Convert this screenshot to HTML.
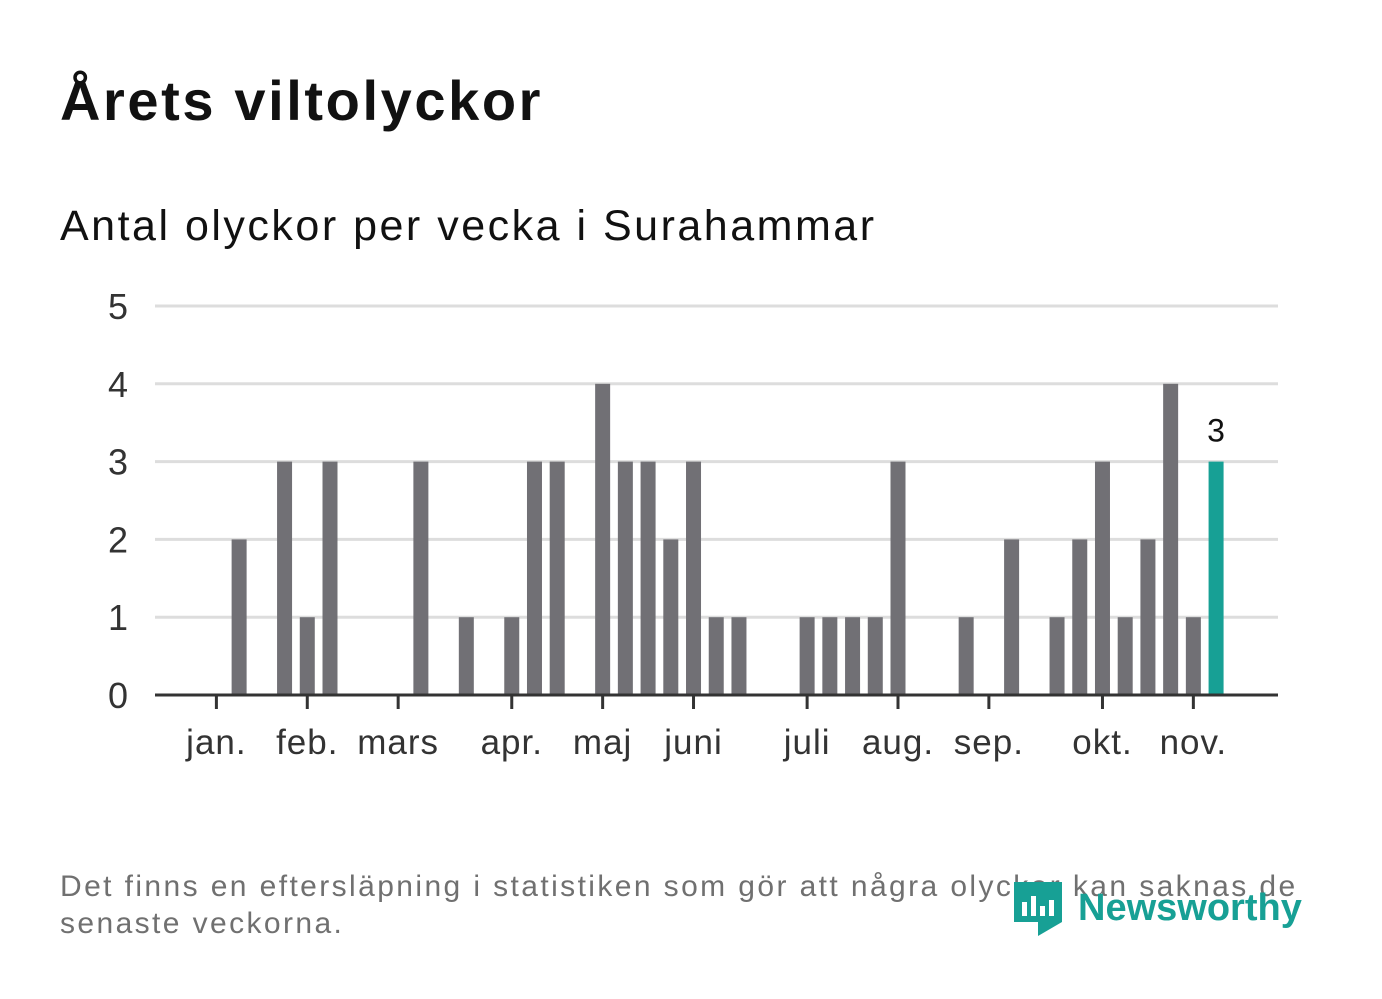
<!DOCTYPE html>
<html><head><meta charset="utf-8"><style>
body{margin:0;width:1382px;height:999px;background:#fff;font-family:"Liberation Sans",sans-serif;overflow:hidden;position:relative}
.t{position:absolute;left:60px;top:68px;font-size:56px;font-weight:bold;color:#111;margin:0;letter-spacing:2.6px}
.s{position:absolute;left:60px;top:202px;font-size:43px;color:#111;letter-spacing:2.5px}
.f{position:absolute;left:60px;top:868px;font-size:30px;color:#707070;line-height:37px;width:1270px;letter-spacing:2.4px}
.logo{position:absolute;left:1012px;top:878px;display:flex;align-items:center;color:#17a095;font-size:38px;font-weight:bold}
svg{position:absolute;left:0;top:0}
</style></head><body>
<h1 class="t">Årets viltolyckor</h1>
<div class="s">Antal olyckor per vecka i Surahammar</div>
<svg id="c" width="1382" height="999"></svg>
<div class="f">Det finns en eftersläpning i statistiken som gör att några olyckor kan saknas de senaste veckorna.</div>
<div class="logo"><svg width="52" height="60" style="position:static" viewBox="0 0 52 60"><path d="M2 4h48v40l-24 14v-14H2z" fill="#17a095"/><rect x="10" y="24" width="5" height="14" fill="#fff"/><rect x="19" y="18" width="5" height="20" fill="#fff"/><rect x="28" y="28" width="5" height="10" fill="#fff"/><rect x="37" y="22" width="5" height="16" fill="#fff"/></svg><span style="margin-left:14px">Newsworthy</span></div>
<script>
const values=[0,0,0,2,0,3,1,3,0,0,0,3,0,1,0,1,3,3,0,4,3,3,2,3,1,1,0,0,1,1,1,1,3,0,0,1,0,2,0,1,2,3,1,2,4,1,3];
const yTicks=[0,1,2,3,4,5];
const monthLabels=["jan.","feb.","mars","apr.","maj","juni","juli","aug.","sep.","okt.","nov."];
const monthWeeks=[2,6,10,15,19,23,28,32,36,41,45];
const NS="http://www.w3.org/2000/svg",svg=document.getElementById('c');
const band=22.72,x0=159.6;
const x=i=>x0+band*(i+0.5);
const y=v=>695-v*77.8;
function mk(t,a){const e=document.createElementNS(NS,t);for(const k in a)e.setAttribute(k,a[k]);svg.appendChild(e);return e;}
yTicks.forEach(v=>{
 if(v>0){const g=mk('line',{x1:155,x2:1278,y1:y(v),y2:y(v),stroke:'#ddd','stroke-width':3});
 
 }
 const t=mk('text',{x:128,y:y(v)+13,'text-anchor':'end','font-size':36,fill:'#333'});t.textContent=v;
 
 
});
values.forEach((v,i)=>{
 const last=i===values.length-1;
 const r=mk('rect',{x:x(i)-7.5,y:y(v),width:15,height:695-y(v),fill:last?'#17a095':'#717075'});
 
 
 if(last){const t=mk('text',{x:x(i),y:y(v)-20,'text-anchor':'middle','font-size':32,fill:'#111'});t.textContent=v;
 
 }
});
const ax=mk('line',{x1:155,x2:1278,y1:695,y2:695,stroke:'#333','stroke-width':3});


monthWeeks.forEach((w,k)=>{
 const tk=mk('line',{x1:x(w),x2:x(w),y1:695,y2:709,stroke:'#333','stroke-width':3});
 
 
 const t=mk('text',{x:x(w),y:754,'text-anchor':'middle','font-size':35,fill:'#333','letter-spacing':1});t.textContent=monthLabels[k];
 
 
});
</script>
</body></html>
